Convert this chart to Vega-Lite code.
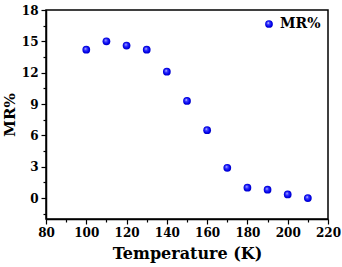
{
  "$schema": "https://vega.github.io/schema/vega-lite/v6.json",
  "width": 282,
  "height": 209,
  "autosize": {"type": "none"},
  "padding": {"left": 46, "top": 10, "right": 14, "bottom": 48},
  "background": "white",
  "config": {
    "view": {"stroke": "black", "strokeWidth": 1.5},
    "font": "DejaVu Serif"
  },
  "data": {
    "values": [
      {"T": 100, "MR": 14.2, "series": "MR%"},
      {"T": 110, "MR": 15.0, "series": "MR%"},
      {"T": 120, "MR": 14.6, "series": "MR%"},
      {"T": 130, "MR": 14.2, "series": "MR%"},
      {"T": 140, "MR": 12.1, "series": "MR%"},
      {"T": 150, "MR": 9.3, "series": "MR%"},
      {"T": 160, "MR": 6.5, "series": "MR%"},
      {"T": 170, "MR": 2.9, "series": "MR%"},
      {"T": 180, "MR": 1.0, "series": "MR%"},
      {"T": 190, "MR": 0.8, "series": "MR%"},
      {"T": 200, "MR": 0.35, "series": "MR%"},
      {"T": 210, "MR": 0.0, "series": "MR%"}
    ]
  },
  "mark": {
    "type": "point",
    "filled": true,
    "size": 60,
    "opacity": 1,
    "fill": {
      "gradient": "radial",
      "x1": 0.38, "y1": 0.35, "r1": 0,
      "x2": 0.5, "y2": 0.5, "r2": 0.55,
      "stops": [
        {"offset": 0, "color": "#ffffff"},
        {"offset": 0.25, "color": "#4a4aff"},
        {"offset": 0.7, "color": "#0000f0"},
        {"offset": 1, "color": "#0000b0"}
      ]
    }
  },
  "encoding": {
    "x": {
      "field": "T",
      "type": "quantitative",
      "scale": {"domain": [80, 220], "nice": false, "zero": false},
      "axis": {
        "title": "Temperature (K)",
        "titleFont": "DejaVu Serif",
        "titleFontSize": 16,
        "titleFontWeight": "bold",
        "titleColor": "black",
        "titlePadding": 7,
        "values": [80, 90, 100, 110, 120, 130, 140, 150, 160, 170, 180, 190, 200, 210, 220],
        "labelExpr": "datum.value % 20 == 0 ? datum.label : ''",
        "labelFont": "DejaVu Serif",
        "labelFontSize": 12,
        "labelFontWeight": "bold",
        "labelColor": "black",
        "labelPadding": 3,
        "labelFlush": false,
        "labelOverlap": false,
        "tickSize": {"condition": {"test": "datum.value % 20 == 0", "value": 5}, "value": 3},
        "tickColor": "black",
        "tickWidth": 1.2,
        "domainColor": "black",
        "domainWidth": 1.5,
        "grid": false
      }
    },
    "y": {
      "field": "MR",
      "type": "quantitative",
      "scale": {"domain": [-2, 18], "nice": false, "zero": false},
      "axis": {
        "title": "MR%",
        "titleFont": "DejaVu Serif",
        "titleFontSize": 15,
        "titleFontWeight": "bold",
        "titleColor": "black",
        "titlePadding": 4,
        "values": [-1.5, 0, 1.5, 3, 4.5, 6, 7.5, 9, 10.5, 12, 13.5, 15, 16.5, 18],
        "labelExpr": "datum.value % 3 == 0 ? datum.label : ''",
        "labelFont": "DejaVu Serif",
        "labelFontSize": 12,
        "labelFontWeight": "bold",
        "labelColor": "black",
        "labelPadding": 3,
        "labelFlush": false,
        "labelOverlap": false,
        "tickSize": {"condition": {"test": "datum.value % 3 == 0", "value": 5}, "value": 3},
        "tickColor": "black",
        "tickWidth": 1.2,
        "domainColor": "black",
        "domainWidth": 1.5,
        "grid": false
      }
    },
    "shape": {
      "field": "series",
      "type": "nominal",
      "scale": {"range": ["circle"]},
      "legend": {
        "title": null,
        "orient": "top-right",
        "offset": 2,
        "labelFont": "DejaVu Serif",
        "labelFontSize": 14,
        "labelFontWeight": "bold",
        "labelColor": "black",
        "symbolFillColor": "#0000f0",
        "symbolStrokeColor": "#0000f0",
        "symbolSize": 60,
        "symbolStrokeWidth": 0,
        "padding": 5
      }
    }
  }
}
